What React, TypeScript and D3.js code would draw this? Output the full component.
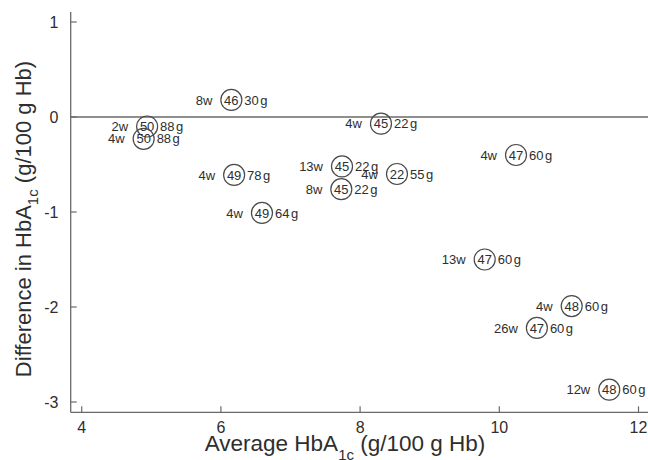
import React from "react";
import * as d3 from "d3";

// Each study: duration, circled number, dose, and the two HbA1c measures
const durations = ["8w", "2w", "4w", "4w", "4w", "4w", "13w", "4w", "8w", "4w", "13w", "4w", "26w", "12w"];
const circledNumbers = [46, 50, 50, 45, 47, 49, 45, 22, 45, 49, 47, 48, 47, 48];
const doses = ["30", "88", "88", "22", "60", "78", "22", "55", "22", "64", "60", "60", "60", "60"];
const averageHbA1c = [6.15, 4.94, 4.89, 8.3, 10.24, 6.19, 7.74, 8.53, 7.73, 6.59, 9.79, 11.04, 10.54, 11.58];
const differenceHbA1c = [0.18, -0.1, -0.23, -0.07, -0.4, -0.61, -0.52, -0.6, -0.76, -1.01, -1.5, -1.99, -2.22, -2.87];

const xTicks = [4, 6, 8, 10, 12];
const yTicks = [1, 0, -1, -2, -3];

const W = 648;
const H = 460;
const FONT = "'Liberation Sans', Arial, Helvetica, sans-serif";
const AXIS = "#6a6a6a";
const INK = "#2e2e2e";

export default function App() {
  const x = d3.scaleLinear().domain([4, 12]).range([81.7, 638.5]);
  const y = d3.scaleLinear().domain([1, -3]).range([22, 402]);

  const left = 70.7;
  const top = 12;
  const bottom = 412.3;
  const r = 10.5;

  const points = durations.map((d, i) => ({
    dur: d,
    num: circledNumbers[i],
    dose: doses[i],
    cx: x(averageHbA1c[i]),
    cy: y(differenceHbA1c[i]),
  }));

  return (
    <svg
      width={W}
      height={H}
      viewBox={`0 0 ${W} ${H}`}
      style={{ position: "absolute", left: 0, top: 0, background: "#fff" }}
      fontFamily={FONT}
    >
      {/* axes */}
      <line x1={left} x2={left} y1={top} y2={bottom} stroke={AXIS} strokeWidth={1.3} />
      <line x1={left} x2={W} y1={bottom} y2={bottom} stroke={AXIS} strokeWidth={1.3} />
      <line x1={left} x2={W} y1={y(0)} y2={y(0)} stroke={AXIS} strokeWidth={1.3} />

      {yTicks.map((t) => (
        <g key={`y${t}`}>
          <line x1={left} x2={left + 6} y1={y(t)} y2={y(t)} stroke={AXIS} strokeWidth={1.2} />
          <text x={58.5} y={y(t) + 5.8} textAnchor="end" fontSize={16} fill={INK}>
            {t}
          </text>
        </g>
      ))}

      {xTicks.map((t) => (
        <g key={`x${t}`}>
          <line x1={x(t)} x2={x(t)} y1={bottom} y2={bottom - 6} stroke={AXIS} strokeWidth={1.2} />
          <text x={x(t)} y={bottom + 21} textAnchor="middle" fontSize={16} fill={INK}>
            {t}
          </text>
        </g>
      ))}

      {/* axis titles */}
      <text x={345} y={451} textAnchor="middle" fontSize={22.5} fill={INK}>
        Average HbA
        <tspan fontSize={15} dy={9}>1c</tspan>
        <tspan dy={-9}> (g/100 g Hb)</tspan>
      </text>
      <text
        transform={`translate(31,219) rotate(-90)`}
        textAnchor="middle"
        fontSize={22}
        fill={INK}
      >
        Difference in HbA
        <tspan fontSize={15} dy={7}>1c</tspan>
        <tspan dy={-7}> (g/100 g Hb)</tspan>
      </text>

      {/* study markers */}
      {points.map((p, i) => (
        <g key={i}>
          <circle cx={p.cx} cy={p.cy} r={r} fill="none" stroke="#4a4a4a" strokeWidth={1.2} />
          <text x={p.cx - r - 8.5} y={p.cy + 4.6} textAnchor="end" fontSize={13} fill={INK}>
            {p.dur}
          </text>
          <text x={p.cx} y={p.cy + 4.6} textAnchor="middle" fontSize={13} fill={INK}>
            {p.num}
          </text>
          <text x={p.cx + r + 2.5} y={p.cy + 4.6} textAnchor="start" fontSize={13} fill={INK}>
            {p.dose}
            <tspan dx={1.5}>g</tspan>
          </text>
        </g>
      ))}
    </svg>
  );
}
